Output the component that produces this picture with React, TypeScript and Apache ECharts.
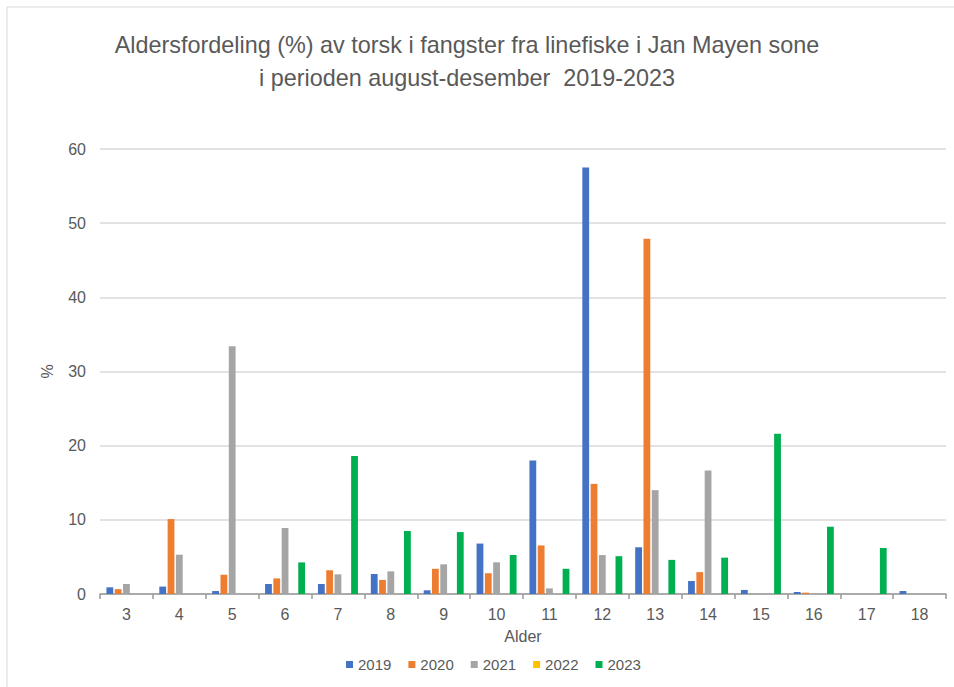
import React, { useEffect, useRef } from "react";
import * as echarts from "echarts";

const categories = ["3", "4", "5", "6", "7", "8", "9", "10", "11", "12", "13", "14", "15", "16", "17", "18"];
const seriesNames = ["2019", "2020", "2021", "2022", "2023"];
const v2019 = [0.9, 1.0, 0.4, 1.35, 1.35, 2.7, 0.5, 6.8, 18.0, 57.5, 6.3, 1.75, 0.55, 0.27, 0, 0.4];
const v2020 = [0.65, 10.1, 2.6, 2.1, 3.2, 1.9, 3.4, 2.8, 6.55, 14.85, 47.9, 2.95, 0, 0.18, 0, 0];
const v2021 = [1.35, 5.3, 33.4, 8.9, 2.65, 3.05, 4.0, 4.27, 0.76, 5.25, 14.0, 16.65, 0, 0, 0, 0];
const v2022 = [0, 0, 0, 0, 0, 0, 0, 0, 0, 0, 0, 0, 0, 0, 0, 0];
const v2023 = [0, 0, 0, 4.26, 18.6, 8.5, 8.35, 5.25, 3.4, 5.1, 4.6, 4.9, 21.6, 9.07, 6.2, 0];
const yTicks = { min: 0, max: 60, interval: 10 };
const colors = ["#4472C4", "#ED7D31", "#A5A5A5", "#FFC000", "#00B050"];
const titleLines = [
  "Aldersfordeling (%) av torsk i fangster fra linefiske i Jan Mayen sone",
  "i perioden august-desember  2019-2023",
];

const FONT = "Liberation Sans";

export default function App() {
  const ref = useRef<HTMLDivElement>(null);
  useEffect(() => {
    if (!ref.current) return;
    const chart = echarts.init(ref.current, null, { renderer: "svg" });
    const data = [v2019, v2020, v2021, v2022, v2023];
    chart.setOption({
      animation: false,
      backgroundColor: "#ffffff",
      textStyle: { fontFamily: FONT },
      graphic: [
        {
          type: "rect",
          shape: { x: 7, y: 7, width: 1000, height: 800 },
          style: { fill: "none", stroke: "#d9d9d9", lineWidth: 1 },
          silent: true,
        },
        {
          type: "text",
          x: 467,
          y: 45,
          style: {
            text: titleLines[0],
            fill: "#595959",
            font: `23.4px "${FONT}"`,
            textAlign: "center",
            textVerticalAlign: "middle",
          },
        },
        {
          type: "text",
          x: 467,
          y: 78,
          style: {
            text: titleLines[1],
            fill: "#595959",
            font: `23.4px "${FONT}"`,
            textAlign: "center",
            textVerticalAlign: "middle",
          },
        },
      ],
      legend: {
        data: seriesNames,
        left: 341,
        top: 652,
        icon: "rect",
        itemWidth: 7,
        itemHeight: 7,
        itemGap: 17,
        textStyle: { color: "#595959", fontSize: 15, fontFamily: FONT },
      },
      grid: { left: 100, right: 8, top: 149, bottom: 93, containLabel: false },
      xAxis: {
        type: "category",
        data: categories,
        name: "Alder",
        nameLocation: "middle",
        nameGap: 34,
        nameTextStyle: { color: "#595959", fontSize: 16, fontFamily: FONT },
        axisLine: { lineStyle: { color: "#999999", width: 1.5 } },
        axisTick: { show: true, length: 5, lineStyle: { color: "#999999", width: 1.5 } },
        axisLabel: { color: "#595959", fontSize: 16, margin: 12, fontFamily: FONT },
      },
      yAxis: {
        type: "value",
        min: yTicks.min,
        max: yTicks.max,
        interval: yTicks.interval,
        name: "%",
        nameLocation: "middle",
        nameGap: 45,
        nameTextStyle: { color: "#595959", fontSize: 16, fontFamily: FONT },
        axisLine: { show: false },
        axisTick: { show: false },
        axisLabel: { color: "#595959", fontSize: 16, margin: 14, fontFamily: FONT },
        splitLine: { lineStyle: { color: "#d9d9d9", width: 1.5 } },
      },
      series: seriesNames.map((name, i) => ({
        name,
        type: "bar",
        data: data[i],
        barWidth: 6.8,
        barGap: "22%",
        itemStyle: { color: colors[i] },
      })),
    });
    return () => chart.dispose();
  }, []);
  return (
    <div
      ref={ref}
      style={{ position: "fixed", left: 0, top: 0, width: 954, height: 687 }}
    />
  );
}
